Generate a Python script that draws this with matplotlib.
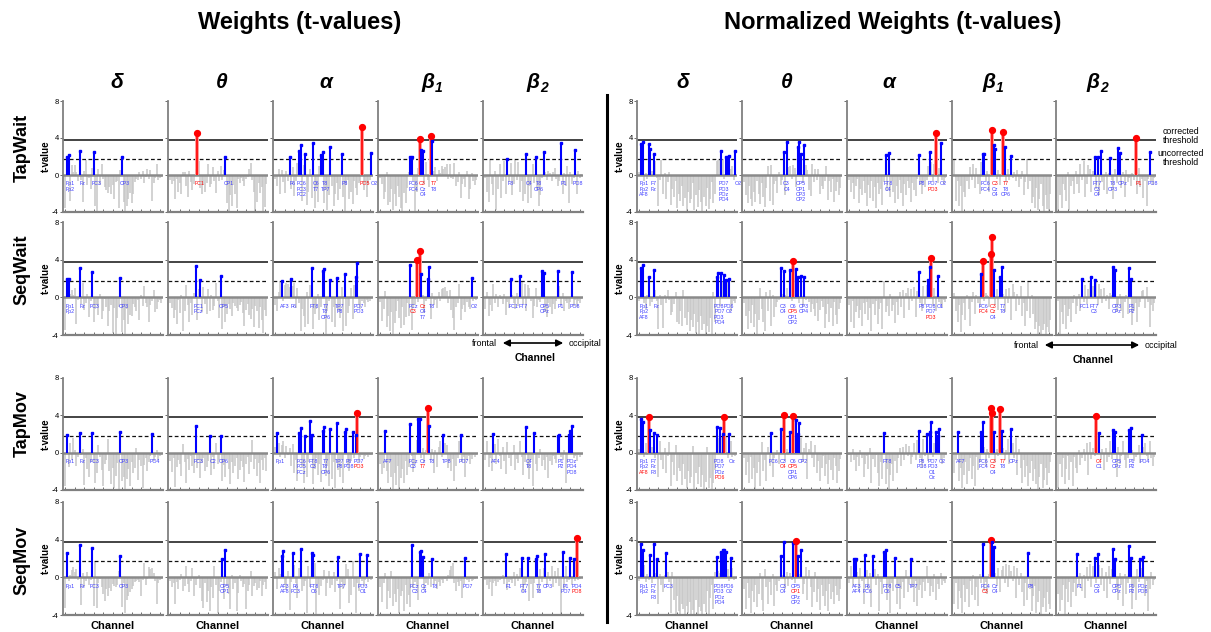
import numpy as np
import matplotlib.pyplot as plt
from matplotlib.lines import Line2D
from matplotlib.patches import FancyArrowPatch

plt.rcParams['font.family'] = ['Liberation Sans', 'DejaVu Sans']

W, H = 1211, 632
N_CH = 62
T_CORR = 3.8
T_UNCORR = 1.75

conditions = ['TapWait', 'SeqWait', 'TapMov', 'SeqMov']
band_names = ['δ', 'θ', 'α', 'β', 'β']
band_subs = ['', '', '', '1', '2']

# ---- gray (non-significant) t-values, one list per band: delta, theta, alpha, beta1, beta2 ----
w_tapwait = [
    [-3.6, 0, 0, -2.8, 1.1, 0.3, 1.1, 0.3, -0.6, 0, -0.5, -2.9, 0.4, 1.6, -1.1, -0.3, -1.5, 0.8, 0, -3.4,
     -4.0, 0.6, -1.1, 1.2, -0.4, -1.3, -1.6, -1.9, -1.3, -2.0, -1.1, -2.6, -0.8, -0.6, -3.6, 0.5, 0, -2.9, -4.0, -3.3,
     -2.6, -1.9, -3.0, -2.0, -0.8, -0.4, -0.5, 0.3, -0.4, 0.4, -0.9, -0.2, 0.7, -0.4, 0.5, -2.8, -0.9, -0.3, 1.2, -0.5,
     -0.3, -0.2],
    [-0.5, -1.0, -0.6, -2.6, -0.4, -1.8, -0.9, -2.0, 0.3, 0.3, -1.2, -2.4, 0.4, -0.8, -1.6, -1.0, 0.7, 0, 1.5, -1.4,
     -2.0, -1.1, -1.8, -0.9, 1.2, -1.3, -1.0, 0.9, -0.6, -1.9, 0.4, -0.7, 1.0, -0.5, 0.5, 0, -3.0, -4.0, -2.2, -3.4,
     -1.1, -2.0, -3.6, -0.4, -0.9, -0.3, -0.6, -1.2, -0.4, -0.2, 0.6, 1.3, -0.5, -1.8, -3.9, -2.9, -0.9, -1.9, -1.3, -4.0,
     -3.5, -1.0],
    [-0.4, -1.2, 0.6, -2.1, 0.5, -0.8, -1.9, 0.4, -0.6, 0, -1.5, 0.9, -2.3, -0.7, 1.3, 0, 0, -2.8, 1.1, 0,
     -3.2, -1.8, 0.7, -2.5, 0, -3.6, -1.4, -2.9, 1.0, 0, 0, -3.0, -1.6, -3.8, -2.2, 0, -1.2, -3.4, -2.0, -0.9,
     -2.7, -1.5, 0, -2.4, -3.9, -1.1, -0.5, -2.6, -1.8, -3.1, -0.7, -1.4, -2.2, -0.9, -0.6, 0, -1.6, -0.8, -2.4, -1.0,
     -0.5, 0],
    [-0.3, -1.0, -2.6, -1.8, 0.3, -3.2, -2.9, -1.5, -3.8, -2.1, -3.3, -1.2, -2.4, -3.6, -4.0, -1.9, -3.0, -1.4, 0.3, 0,
     0, -0.6, -3.9, -1.8, 0.8, 0, 0, 0, -1.0, 1.4, -0.5, -1.3, 0, 0, 0.4, 0.9, -0.7, 0.5, 0.2, 1.0,
     0.6, 0.9, 1.2, -0.4, 1.2, -0.3, -0.4, 1.3, -1.2, -0.8, 0.3, -2.5, -1.0, -0.4, -1.3, 0.4, -2.6, -1.5, 0.2, -0.6,
     -1.1, -0.5],
    [-0.3, -1.8, -2.9, 1.6, -1.0, -2.2, 0.4, -3.8, -1.5, 1.2, -2.5, -0.6, 1.5, -2.0, 0, -0.8, 1.3, -2.2, -1.0, 1.6,
     -0.5, 1.4, -1.8, -0.7, -2.8, -2.1, 0, -3.0, -1.2, -2.5, 1.2, -0.9, 0, -1.6, -3.4, -2.2, -0.3, 0, 0.3, -0.5,
     0.4, 0.2, -0.6, 0.3, 0.8, -0.4, -1.2, -0.6, 0, -2.0, 0.2, -1.2, 1.0, -3.0, 0.3, -1.0, -0.3, 0, -2.0, 0.4,
     -0.3, 0.1],
]
w_seqwait = [
    [-3.5, 0, 0, 0.4, 0.8, 0.3, 1.0, -2.8, -0.3, 0, -0.7, 1.5, -1.3, -0.6, 0.4, -2.1, -0.4, 0, -2.6, -1.2,
     -0.8, -1.9, 0.4, -2.3, -1.4, -0.2, -1.0, -3.0, -1.5, -0.8, -3.8, -1.1, -3.9, -2.2, -1.0, 0, -3.7, -2.4, -4.0, -1.2,
     -2.8, -1.9, -2.0, -0.7, -1.0, -1.4, -0.3, -2.4, 0.3, -0.9, 1.2, -0.6, -1.0, -2.6, -0.8, -0.4, 0.8, -1.6, -1.2, -0.5,
     -0.3, -0.6],
    [-0.6, -1.1, -2.2, -1.3, -2.8, -0.3, -1.7, 0.2, -3.6, -1.4, 1.3, -0.8, -2.6, -0.6, -1.9, 0.5, 0, -2.4, 0.9, 0,
     -1.6, 1.1, -0.7, -1.8, 0.9, -1.5, 0.3, -1.3, -0.9, 1.5, -0.4, -2.2, 0, -3.4, -1.0, -2.6, -1.8, -0.7, -1.2, -2.0,
     -0.6, -0.9, -1.1, -1.4, -0.8, -0.5, -1.7, -3.0, -1.3, -0.7, -1.9, -2.3, -1.2, -3.1, -0.9, -1.5, -3.3, -1.0, -2.4, -3.8,
     -1.3, -2.0],
    [-0.8, -1.5, 0.6, 1.6, 0, -0.4, 1.3, 1.5, 1.4, 1.1, 0, 1.2, 1.5, -1.1, 1.0, -0.6, -3.6, -1.2, -2.0, -3.2,
     0.6, -2.8, 1.3, 0, -3.4, -1.8, -1.2, 0.4, -2.4, -1.0, 0, 0, -3.9, -1.5, -0.4, 0, -2.6, -1.0, -3.2, 0,
     -1.4, -2.2, 1.1, -3.6, 0, -3.0, -1.7, -0.9, 1.0, -2.3, 1.3, 0, 0, -0.8, -1.2, -0.4, -0.6, -1.0, -0.3, -0.5,
     -0.4, -0.2],
    [-0.5, -2.5, -1.2, 0.7, -3.2, -2.0, -3.6, -1.6, -3.9, -2.7, -1.4, -0.4, -2.2, -3.3, -1.0, -2.9, -2.1, -0.6, -2.0, 0,
     -3.5, -1.1, -0.8, 0, -0.5, 0, 0, 0.3, -1.7, -0.4, 0, 0, -2.3, 0.5, -0.8, -0.3, -1.1, 0.6, -0.4, 0.9,
     1.0, 1.1, 0.7, -0.6, 0.8, -1.3, -2.2, -3.5, -1.0, -0.6, 1.4, -2.4, -1.2, -0.8, -1.6, -0.5, -1.0, -1.2, 0, -0.4,
     -0.2, -0.3],
    [-1.2, 0.6, -2.0, -0.8, -1.5, 1.4, -0.6, 0.4, -1.0, 0.3, -0.2, -0.7, 0.4, -1.9, -0.5, -1.1, 0, 0.3, -0.6, -1.2,
     0.5, -0.9, 0, 1.6, -0.7, 1.4, -1.4, 1.3, 1.0, -0.4, -2.2, -0.9, 1.0, -1.0, -0.3, -0.5, 0, 0, -1.6, -2.1,
     -0.6, -1.0, -1.8, -0.7, -1.2, -0.4, 0, 1.2, -0.8, 0.5, -1.5, -0.4, -0.6, -1.2, -0.5, 0, -0.9, -0.3, -1.0, -0.4,
     -0.6, -0.2],
]
w_tapmov = [
    [-3.6, 0, -1.5, 1.0, -0.8, 1.6, 0.3, -1.4, -0.5, 0, -0.3, 0.4, -3.5, -0.6, -1.8, -2.6, -1.0, 0, -1.1, -3.2,
     -2.2, 0.8, -0.5, -1.9, -3.6, -1.2, -0.8, 1.5, -2.0, -3.4, -1.6, -3.8, -2.5, -1.1, -4.0, 0, -3.0, -2.6, -4.0, -2.8,
     -1.7, -3.6, -1.0, -2.2, -1.6, 0.5, -2.9, -0.8, -1.4, -3.8, -1.3, -0.6, -2.0, -1.0, -0.4, 0, -0.9, -0.5, 0.3, -0.8,
     -0.4, -0.3],
    [-0.9, -2.1, -0.6, -3.7, -1.5, -0.8, -1.2, -2.5, 0.9, -1.0, -3.3, -0.7, -1.9, -0.4, -1.4, -2.2, 0, -1.6, -0.8, -2.7,
     -1.1, -0.6, -2.0, -1.5, -0.9, 0, -2.4, -0.5, -1.7, 1.0, -1.2, -0.8, 0, -3.0, -1.3, -2.6, -0.7, -1.8, -3.4, -1.0,
     -2.2, -1.4, -0.6, -2.8, -1.9, -0.9, -1.5, -3.1, -1.2, -0.5, -2.3, -1.0, 1.4, -1.8, -0.7, -2.5, -1.1, -3.2, -0.8, -1.9,
     -0.6, -2.0],
    [0.6, 0, 1.0, -0.5, 0.8, 1.3, -0.6, 0.7, -0.3, 0.5, -1.4, 0.9, -2.2, -0.8, -3.0, 0, 0, -1.5, -3.3, 0,
     -2.6, -1.0, 0, 0, -3.4, -1.8, -0.6, -2.4, -1.2, -3.1, 0, 0, -2.5, -1.4, -3.6, 0, -2.8, -1.0, -3.8, 0,
     -1.9, -2.6, -0.7, -3.2, 0, 0, -1.3, -2.0, -0.9, 0, -0.6, 0, 0, -1.0, -0.5, -0.3, -0.7, -0.4, -0.2, -0.5,
     -0.3, -0.2],
    [-1.2, -2.3, -1.6, 0, -2.0, -3.2, -1.0, -2.6, -3.9, -2.2, -3.5, -1.4, -4.0, -2.7, -1.8, -3.3, -0.9, -2.4, -1.5, 0,
     -0.4, -2.1, -1.2, 1.4, 0, 0, -0.6, 0.5, -1.0, 0.3, 0, 0, -0.8, 0.4, -2.2, 0.3, -1.5, 0.6, 1.2, -0.5,
     0, 1.0, 0.8, -1.6, -0.9, -2.0, -0.7, -3.0, -1.4, -0.6, 1.3, 0, -1.0, -0.5, -2.6, -0.8, -0.4, -1.2, -0.7, -0.3,
     -0.5, -0.2],
    [-0.8, 1.2, -1.5, -0.6, -2.0, 0, 0.9, -1.2, 1.5, -0.4, -1.7, 0.6, -0.9, -2.3, 1.1, -0.6, -1.4, -0.3, 0.8, -1.9,
     -0.7, -1.1, 1.3, -0.5, -2.4, -1.0, 0, -1.6, -2.8, -0.8, -3.6, 0, -1.2, -2.0, -0.6, 0.4, -1.4, -0.8, -1.9, -0.5,
     -2.7, -0.9, -1.3, -0.4, -0.7, -1.1, 0, 0, -0.5, -0.8, 0.3, -3.2, -1.0, 0, 0, 0, -0.6, -0.4, -0.9, -0.3,
     -0.5, -0.2],
]
w_seqmov = [
    [-3.3, 0, -0.4, 0.3, 0.8, 1.1, 0.6, 0.9, -0.3, 0, -2.9, 0.5, -1.0, -0.4, 0.6, -0.8, -0.3, 0, -3.0, 1.7,
     -3.3, -0.6, -0.2, -1.0, -1.8, -2.5, -1.2, -2.0, -1.1, -1.5, -0.7, -0.9, -1.0, -0.8, 0.7, 0, -3.2, -0.6, -3.8, -2.4,
     -2.0, -1.6, -1.2, -0.9, -0.5, -0.4, -0.3, -0.5, -2.0, -0.3, 1.5, -0.8, -0.2, 1.1, 0.9, 1.0, 0.5, -0.4, -2.8, -0.6,
     -0.3, -0.2],
    [-0.4, -1.0, -0.6, -2.8, -0.5, -1.2, -0.3, 0.4, -1.5, -0.9, 1.2, -0.7, -1.6, -0.4, 1.0, -2.0, -0.8, -0.2, 0.3, -1.1,
     -2.5, -3.3, -0.6, -2.6, -1.4, -3.6, -1.0, -2.2, 1.2, -0.8, -3.8, -1.5, -0.5, 0, -2.3, 0, -0.9, -1.8, -3.4, 0.3,
     -1.2, -0.6, -3.6, -1.7, 0.2, -0.4, -1.0, -0.7, -3.4, -1.5, -0.8, 0.7, -2.0, -0.9, -0.6, -1.3, -1.1, -0.4, -2.0, -0.8,
     -0.5, -1.2],
    [0.6, -1.2, 1.0, 0.4, 0, 0, -0.8, -1.3, 0.7, -3.5, -0.5, 0, 1.3, -0.6, -2.2, 1.0, 0, -1.5, -0.9, -0.4,
     -3.8, 1.2, -1.0, 0, 0, 1.5, -4.0, -0.7, -1.9, -0.9, -0.3, 0.8, -2.0, -0.6, 0.7, -1.1, -0.8, 0.6, -1.6, -0.4,
     0, -3.4, -0.5, -1.2, -0.8, 1.4, 0.9, -2.7, -1.9, 1.7, -1.0, -3.8, -0.6, -1.5, 0, -0.4, -0.9, -0.3, 0, -0.5,
     -0.2, -0.3],
    [-1.0, -2.6, -0.6, 0.5, -3.4, -1.5, -2.2, 0.7, -3.0, -1.8, -2.6, -1.2, -3.8, -2.0, -1.4, -3.6, -0.8, -2.8, -1.9, -3.2,
     0, -1.1, -0.5, -0.9, -2.4, 0, 0, 0, -1.3, -0.6, -0.8, 0.5, -1.0, 0, -0.7, -0.4, -1.2, -0.5, -0.9, -0.3,
     -0.6, -0.2, -0.4, 0.3, 0.8, 1.2, 1.5, -0.6, -1.4, -0.5, -0.9, -0.4, -2.2, -0.7, 0, -0.3, -0.5, -0.2, -0.4, -0.3,
     -0.2, -0.1],
    [-0.3, -0.8, -1.2, -0.5, -2.0, -0.6, -0.4, -0.9, -0.5, -0.3, -0.2, 0.3, -0.7, 0, -1.3, -0.5, -0.3, -0.6, 0.6, -0.9,
     0.4, -0.4, 1.0, 0, -1.6, -0.8, -0.5, 0, -2.5, -0.7, -2.2, -0.6, 0, 0, -1.7, 0.9, -0.5, 1.0, 0, -0.8,
     0.6, -0.4, 1.2, -1.0, 0.7, -0.6, 1.0, -0.9, -4.0, 0, -1.2, 1.2, -0.5, -0.3, 0, -0.8, 0, -0.4, 0, -0.3,
     -0.2, -0.1],
]

nw_tapwait = [
    [0.3, 0, 0, -0.6, 0.2, -0.4, 0, 0, 0.4, 0, 1.5, -0.3, -3.3, -0.5, 1.6, -2.0, 0.2, -2.6, -0.8, 0.3,
     -3.2, -1.5, -2.4, -0.6, -3.6, -2.0, -2.8, -1.2, -3.4, -2.5, -4.0, -1.8, -3.0, -2.6, -0.9, -3.8, -2.2, -3.5, -1.6, -2.9,
     -4.0, -2.4, -3.3, -1.4, -3.7, -2.6, -0.8, -3.0, -2.0, 1.5, 1.6, 1.7, 0, 1.7, -0.4, 0, 0, 0, 0.6, 1.0,
     -0.5, 0],
    [-0.8, -2.2, -3.0, -1.2, -2.6, -3.4, -1.8, -2.9, -0.6, -2.0, -3.1, -0.9, -2.4, -3.5, -1.4, 1.0, -2.8, 1.1, -3.2, -1.0,
     -0.6, -1.9, 0.3, -1.1, -0.5, 0, -2.2, 0, 0.9, 1.0, -0.4, 1.1, 0.8, -1.3, 0, 0, 0, -0.9, 0, 1.1,
     0.5, -1.6, -2.3, 1.2, -0.8, 0.6, -0.5, 0.7, -2.0, -1.2, -1.5, -0.7, 1.0, -2.7, -0.6, -1.8, -0.4, -2.9, -1.7, -0.8,
     -2.2, -1.4],
    [-0.5, -1.8, -0.9, -2.6, -1.2, -0.4, -3.0, -1.5, -2.2, -0.7, -1.9, -3.4, -1.1, -2.5, -0.6, -2.8, -1.3, -3.6, -0.9, -2.1,
     -1.5, -3.2, -0.8, 0, -1.7, 0, -2.4, -0.6, -1.8, -3.0, -1.2, -2.6, -0.5, -1.9, -3.3, -1.0, -2.2, -0.7, -1.4, -2.9,
     -0.9, -1.6, -2.3, -0.4, 0, -1.1, -2.0, -0.8, -1.3, -0.5, 1.0, 0, 1.4, -0.6, 1.2, 0, -0.9, 0.8, 0, -0.5,
     -1.0, -0.3],
    [1.6, -2.8, -0.6, -3.4, -1.2, -3.9, -1.8, -2.4, -0.7, -1.5, 0.9, -0.5, 1.2, -1.4, 0.8, -1.0, -2.0, 1.4, 0, 0,
     -0.6, 0.4, -1.8, 1.5, 0, 0, 0, -0.4, 0.5, -1.1, 0.3, 0, 0, -0.8, 0.6, -0.5, 0, -0.3, 0.3, -0.6,
     0.5, -1.3, -0.4, 0.4, -2.2, -0.8, 1.7, -1.5, -0.6, -3.0, -2.4, -3.6, -1.4, -3.8, -2.6, -1.0, -3.4, -4.0, -2.2, -3.7,
     -3.9, -2.0],
    [-3.9, -2.2, -3.6, -1.0, -1.6, -2.8, 0.3, -3.8, -1.2, -0.6, -2.0, 0.4, -1.0, -1.9, 1.2, -0.5, 1.5, -2.4, -1.0, 1.1,
     0.7, -1.8, 0.4, 0, -1.5, 0, -2.2, 0, -0.8, -1.6, 0.3, -2.1, 0.2, 0, -0.5, -2.6, 0.6, -0.9, 0, 0,
     -1.4, 0.3, -2.4, 0.5, -0.8, -0.3, -1.2, 0.2, -0.5, 0, -2.0, 0.8, -1.3, -0.4, -2.5, -0.7, -3.3, -0.4, 0, -0.6,
     -1.1, -0.3],
]
nw_seqwait = [
    [-0.4, 0, 0, -0.6, -1.2, 0.3, 0, -0.9, -0.5, 0, 0.8, -0.4, -3.4, 0.2, -0.8, -3.3, 0.3, -0.6, 0.8, -0.3,
     -1.9, -1.6, -0.7, 0.6, -2.6, -2.8, -1.4, -3.0, 0.8, -2.2, -2.9, -1.6, -3.6, -2.4, -3.2, -1.8, -3.8, -2.6, -3.9, -2.0,
     -3.5, -2.8, -4.0, -3.0, -3.7, -2.2, -3.9, 0.6, -2.6, 0, 0, -0.9, 0, 1.7, 0, 0, 1.6, 0, -1.5, -0.8,
     -0.4, -0.6],
    [-0.6, -2.0, -3.4, -1.4, -2.7, -0.8, -3.2, -1.8, -3.9, -2.4, 1.0, -1.2, -2.6, -3.6, 0.6, -1.5, 0.8, -3.0, 0.3, -2.1,
     -1.0, -0.5, -0.3, 0, 0.4, 0, 0.3, 1.0, -0.2, 0, -0.4, 0, 0.3, 0, 0, -0.6, 0, -0.9, 0, -0.3,
     -0.2, -0.5, -1.6, -0.7, -1.2, -2.0, -0.6, -2.5, -1.3, -0.4, -1.0, -3.3, -1.8, -0.7, -2.6, -1.1, -3.0, -0.5, -1.9, -2.8,
     -1.2, -0.6],
    [-0.8, -2.6, -0.4, -3.3, -1.6, -0.9, -2.2, -1.3, -3.0, -0.6, -1.8, -0.5, -2.4, -1.1, -3.6, -0.7, -1.9, -0.4, -2.8, -1.2,
     -0.6, -3.4, 1.7, -1.6, -0.9, -2.0, 0.4, -1.4, -0.8, -2.7, -0.5, -1.9, 0.6, -1.0, 0.8, -2.2, 0.5, 1.0, -1.3, 0.9,
     -0.4, 1.1, -2.1, 0.7, 0, -0.6, -1.5, 1.2, -0.8, 1.3, 0, 0, 0, -0.9, 1.0, -1.4, 0, -0.5, -0.7, -1.0,
     -0.3, -0.5],
    [0.5, -1.4, -2.6, -0.8, -3.7, -1.9, -0.6, -2.4, 0.3, -1.2, -3.0, -0.5, 0.6, -1.8, 0.3, -0.6, -1.0, 0, 0, -0.4,
     0.5, 0.3, -1.0, 0, 0, 0, -0.8, 0.9, -1.3, 0, 0, 0.4, -1.6, 0.9, -0.6, 1.0, -2.4, 1.4, 0.6, -1.5,
     0.4, -0.8, 1.2, -2.0, -0.6, -3.0, -1.4, 1.7, -2.2, 0.3, -1.8, -3.4, -2.6, -3.9, -3.0, -4.0, -3.5, -2.8, -4.0, -3.2,
     -3.7, -2.4],
    [-0.4, -3.9, -1.6, -2.8, -0.8, -3.4, -2.0, -1.2, -2.6, -0.6, 0.2, -1.8, -0.9, 0.4, -1.4, 0, -0.5, 1.3, -0.7, 0.9,
     1.5, 0, 1.2, 0, 1.6, -0.8, 1.4, 0.9, -0.6, 1.0, -0.4, 0.3, -1.2, 0.5, 0.3, 0, 0, -1.6, -0.8, 0.4,
     -1.4, -2.2, -0.5, 0.3, -1.8, 0, 0, -2.9, -1.4, -0.6, -2.6, -1.0, -0.5, 0.7, 0.8, -1.1, 1.1, -0.5, -3.2, -0.8,
     -1.4, -0.6],
]
nw_tapmov = [
    [0.4, 0, 0, -0.5, 1.0, -0.3, 0, 0, 0.6, 0, -0.6, 0, -2.6, 1.2, -0.8, -1.8, 0.5, -2.2, -0.4, 1.1,
     -3.6, -1.0, -2.4, 0.8, -3.0, -1.6, -2.0, -3.5, -1.2, -2.8, -3.8, -2.0, -3.2, -2.6, 0.7, -3.9, -2.2, -3.4, -1.5, -3.7,
     -2.4, -4.0, -3.1, 0.6, -3.8, -2.7, -4.0, -3.3, -1.9, 0, 1.6, 0, 1.7, 0, 0, 1.7, -0.6, 0, 1.2, -0.5,
     -0.3, -0.4],
    [-0.6, -2.4, -1.0, -3.3, -0.5, -2.8, -1.6, -3.9, -2.2, -1.0, -3.6, 1.1, -2.0, -0.8, -3.0, 0.6, -1.4, 0, -2.6, -0.6,
     -0.3, 0.3, -1.2, 0, 0.5, 0, -0.9, 0.4, -0.3, 0, 0.6, 0, 0.3, 0, 0, 0, 1.6, -1.0, 0.5, 1.0,
     -2.8, 0.4, 1.2, -0.6, -1.5, 0.8, -2.2, -0.9, -3.0, -1.6, -0.4, -2.5, -1.2, -3.4, -0.8, -1.9, -2.9, -0.6, -1.4, -3.2,
     -2.0, -0.7],
    [-0.3, -1.0, 0.4, -0.8, -2.0, -0.5, -1.4, 0.3, -0.6, -2.6, -1.2, -0.4, -1.8, 0.5, -3.2, -0.7, -1.5, -0.3, -2.2, -3.6,
     -1.0, -2.8, 0, -3.4, -1.8, -3.9, -2.4, -1.2, -3.0, -0.9, -2.2, -0.6, 0.5, -1.4, 0.6, -0.8, 0.9, -0.4, 0.7, -1.2,
     -0.5, 1.0, -0.8, 1.4, 0, -0.6, -1.6, 1.5, -0.4, 0, -0.9, 0, 0, -0.5, 1.0, 0, 0, 0, -0.7, -1.2,
     -0.6, -0.3],
    [-2.2, -0.8, 0, -3.0, -1.6, -3.8, -2.4, -1.0, -3.4, -2.0, -0.6, -2.8, -1.4, -3.6, -0.5, -1.9, -1.0, 0, 0, 0.6,
     -1.4, 0.4, -0.6, 0, 0, 0, -1.0, 0.4, -0.4, 0, 0, 0.5, -0.8, 0.3, 1.5, -1.2, 0, 1.0, -0.6, 1.6,
     -2.4, 0.4, -1.6, -3.2, -0.8, -2.6, -1.4, -3.6, -2.2, -0.9, -3.0, -1.8, -3.4, -4.0, -2.6, -1.2, -3.8, -2.9, -1.6, -3.5,
     -2.2, -1.0],
    [-3.8, -1.2, -2.6, -0.6, -3.4, -1.8, -0.4, -2.9, -1.0, -3.6, -0.5, -1.6, -2.2, 0.3, -1.3, -0.6, 0.4, -0.9, 1.0, -2.4,
     1.1, -0.7, 0.5, -0.4, 0, 0.6, 0, -0.8, 0.4, -1.9, 0.5, -1.0, -0.5, 1.2, -0.7, 0, 0, -2.6, 0.6, -1.2,
     -0.4, 1.3, -0.8, -1.6, -0.6, 0, 0, 0.3, -0.9, -0.5, -0.3, 0.8, -1.1, 0, 0.6, 1.0, -0.4, -0.8, 1.2, -0.6,
     -1.4, -0.5],
]
nw_seqmov = [
    [-0.4, 0, 0, 1.3, -0.5, 0.4, -0.3, 0, -0.6, 0, 0.5, 0, -2.8, 0.4, -0.8, -1.6, 0.3, 0, 0.6, -0.5,
     -3.8, 0.6, -2.4, -3.9, -2.0, -3.6, -4.0, -2.8, -3.4, -4.0, -3.0, -3.8, -2.6, -4.0, -3.5, -3.9, -2.4, -4.0, -3.2, -3.6,
     -4.0, -2.8, -3.7, -1.5, -3.9, -2.2, -0.8, -3.4, 0.6, 0, 0.7, 0.5, 0, 0, 0, 0, 0.9, -0.4, 0, 1.0,
     -0.3, -0.2],
    [-1.2, -3.4, -0.6, -2.2, -3.8, -1.4, -2.6, -0.8, -3.2, -1.8, 0.5, -2.4, -3.6, 0.9, -1.0, -2.8, -0.5, -1.9, 0.4, -3.0,
     -0.8, -1.5, -0.4, 0, 0.3, 0, -1.2, 0.6, -0.9, 0.5, -0.3, 0, -0.6, 0, 0, 0.4, 0, -1.8, -0.7, 1.1,
     -2.4, 0.8, -1.0, -3.2, -1.6, 0.6, -2.6, -1.2, -3.5, -0.8, -2.0, -3.0, -1.4, -3.6, -0.7, -2.3, -1.6, -2.8, -0.9, -1.9,
     -2.5, -1.2],
    [-0.6, 1.2, -0.9, 0, 0, 0.6, -1.5, 1.0, -0.4, -2.8, 0, 0.8, -1.2, 0.5, -3.2, 0, 0.9, -0.8, 0.4, -3.6,
     -0.5, -1.8, 0, 0, -2.4, -1.0, -3.8, -0.6, -1.5, 0, -2.8, -0.9, -3.4, -1.2, -0.5, -2.2, 0.8, -1.6, -0.7, 0,
     -1.0, -2.6, -0.4, -3.0, -1.3, -0.8, -2.2, -0.5, -1.4, 1.2, -0.6, -2.0, -0.9, -1.6, 0.4, -2.4, -0.7, -1.2, 0.5, -0.8,
     -0.4, -0.6],
    [-2.8, -0.6, -3.4, -1.5, -2.2, -3.8, -0.8, -2.6, -1.2, -3.2, -0.4, -1.9, 0.3, -2.4, -1.0, -3.0, 0.4, -0.6, 0, -1.4,
     -0.5, -1.8, 0.4, 0, 0, 0, 0.5, -0.9, 1.0, -1.6, 0.8, 1.2, -0.6, 1.4, -1.0, 1.3, 0.7, -0.4, 1.2, -2.2,
     1.0, -0.8, 0.5, -1.6, -3.0, -0.6, -2.4, 0, -1.2, -3.6, -2.0, -0.9, -3.8, -2.6, -1.4, -4.0, -3.2, -2.2, -3.7, -1.6,
     -2.8, -3.4],
    [-1.8, -3.6, -2.4, -0.8, -3.9, -1.2, -2.6, -0.5, -3.2, -1.6, -0.6, -2.0, 0, -0.9, 0.5, -1.4, 0.3, -2.2, 1.1, -0.4,
     1.4, -1.0, 1.2, 0, -0.6, 0, 1.3, -0.8, 1.0, -1.5, 0.6, -2.2, 1.2, -0.7, 0.9, 0, 0, -1.2, -2.4, 0.5,
     -0.8, -3.0, 0.4, -1.8, -0.6, 0, 0, -3.4, -1.0, -2.4, 0.9, -0.5, 0, 1.0, 0, -2.0, -0.4, -3.6, -1.2, 0.6,
     -0.8, -0.3],
]

# ---- significant channels: (channel index, t-value, label, 'b' uncorrected / 'r' corrected) ----
hl_w_tapwait = [
    [(1, 1.95, 'Fp1', 'b'), (2, 2.2, 'Fp2', 'b'), (9, 2.6, 'Fz', 'b'), (18, 2.5, 'FC3', 'b'), (36, 1.9, 'CP3', 'b')],
    [(17, 4.5, 'FC1', 'r'), (35, 2.0, 'CP1', 'b')],
    [(9, 1.9, 'F6', 'b'), (15, 2.6, 'FC6', 'b'), (16, 3.2, 'FC3', 'b'), (19, 2.3, 'FC2', 'b'), (24, 3.5, 'C6', 'b'),
     (29, 2.2, 'T7', 'b'), (30, 2.5, 'T8', 'b'), (35, 3.0, 'TP7', 'b'), (42, 2.3, 'P8', 'b'), (55, 5.2, 'PO5', 'r'),
     (61, 2.4, 'O2', 'b')],
    [(19, 1.9, 'FC6', 'b'), (20, 2.0, 'FC4', 'b'), (25, 3.9, 'C3', 'r'), (26, 2.7, 'Cz', 'b'), (27, 2.6, 'C4', 'b'),
     (32, 4.2, 'T7', 'r'), (33, 3.65, 'T8', 'b')],
    [(14, 1.77, 'F8', 'b'), (26, 2.3, 'C4', 'b'), (32, 1.95, 'T8', 'b'), (37, 2.45, 'CP6', 'b'), (48, 3.45, 'P1', 'b'),
     (57, 2.7, 'PO8', 'b')],
]
hl_w_seqwait = [
    [(1, 1.95, 'Fp1', 'b'), (2, 1.9, 'Fp2', 'b'), (9, 3.1, 'Fz', 'b'), (17, 2.7, 'FC3', 'b'), (35, 2.05, 'CP3', 'b')],
    [(16, 3.35, 'FC1', 'b'), (19, 1.87, 'FCz', 'b'), (32, 2.3, 'CP5', 'b')],
    [(4, 1.76, 'AF3', 'b'), (10, 1.9, 'F6', 'b'), (23, 3.13, 'FT8', 'b'), (30, 2.82, 'T7', 'b'), (31, 2.96, 'T8', 'b'),
     (35, 1.8, 'CP6', 'b'), (39, 2.08, 'TP7', 'b'), (44, 2.46, 'P8', 'b'), (51, 2.15, 'PO7', 'b'), (52, 3.6, 'PO3', 'b')],
    [(19, 3.45, 'FCz', 'b'), (23, 4.0, 'C3', 'r'), (25, 4.96, 'Cz', 'r'), (26, 2.5, 'C4', 'b'), (30, 1.94, 'T7', 'b'),
     (31, 3.17, 'T8', 'b'), (58, 2.1, 'O2', 'b')],
    [(16, 1.9, 'FC1', 'b'), (22, 2.3, 'FT7', 'b'), (36, 2.8, 'CP5', 'b'), (37, 2.6, 'CPz', 'b'), (46, 2.8, 'P1', 'b'),
     (55, 2.7, 'PO8', 'b')],
]
hl_w_tapmov = [
    [(1, 1.9, 'Fp1', 'b'), (9, 2.15, 'Fz', 'b'), (17, 2.15, 'FC3', 'b'), (35, 2.2, 'CP3', 'b'), (55, 2.0, 'PO4', 'b')],
    [(16, 2.9, 'FC3', 'b'), (25, 1.8, 'C2', 'b'), (32, 1.8, 'CP6', 'b')],
    [(1, 2.1, 'Fp1', 'b'), (15, 2.15, 'FC6', 'b'), (16, 2.6, 'FC5', 'b'), (19, 1.8, 'FCz', 'b'), (22, 3.35, 'FT8', 'b'),
     (23, 1.9, 'C3', 'b'), (30, 2.3, 'T7', 'b'), (31, 2.75, 'T8', 'b'), (35, 2.5, 'CP6', 'b'), (39, 3.2, 'TP7', 'b'),
     (44, 2.25, 'P8', 'b'), (45, 2.5, 'P6', 'b'), (49, 2.25, 'PO8', 'b'), (51, 1.85, 'PO7', 'b'), (52, 4.2, 'PO3', 'r')],
    [(3, 2.3, 'AF7', 'b'), (19, 3.1, 'FCz', 'b'), (24, 3.66, 'C3', 'b'), (25, 3.66, 'Cz', 'b'), (30, 4.8, 'T7', 'r'),
     (31, 2.85, 'T8', 'b'), (40, 1.9, 'TP8', 'b'), (51, 1.85, 'PO7', 'b')],
    [(5, 2.0, 'AF4', 'b'), (26, 2.8, 'C4', 'b'), (31, 2.15, 'T8', 'b'), (46, 1.8, 'P1', 'b'), (47, 1.85, 'P2', 'b'),
     (53, 1.9, 'POz', 'b'), (54, 2.3, 'PO4', 'b'), (55, 2.85, 'PO8', 'b')],
]
hl_w_seqmov = [
    [(1, 2.6, 'Fp1', 'b'), (9, 3.4, 'Fz', 'b'), (17, 3.1, 'FC3', 'b'), (35, 2.25, 'CP3', 'b')],
    [(33, 1.9, 'CP5', 'b'), (35, 2.95, 'CP1', 'b')],
    [(4, 2.3, 'AF3', 'b'), (5, 2.8, 'AF8', 'b'), (11, 2.6, 'F6', 'b'), (16, 3.0, 'FC3', 'b'), (23, 2.6, 'FT8', 'b'),
     (24, 2.35, 'C6', 'b'), (40, 2.15, 'TP7', 'b'), (54, 2.45, 'PO3', 'b'), (58, 2.4, 'O1', 'b')],
    [(20, 3.4, 'FCz', 'b'), (25, 2.65, 'C3', 'b'), (26, 2.8, 'Cz', 'b'), (27, 2.15, 'C4', 'b'), (33, 1.9, 'T8', 'b'),
     (54, 2.1, 'PO7', 'b')],
    [(13, 2.5, 'F1', 'b'), (23, 2.05, 'FT7', 'b'), (27, 2.05, 'C4', 'b'), (32, 1.9, 'T7', 'b'), (33, 2.3, 'T8', 'b'),
     (38, 2.5, 'CP3', 'b'), (49, 2.7, 'P1', 'b'), (54, 2.05, 'PO7', 'b'), (56, 1.9, 'PO4', 'b'), (58, 4.2, 'PO8', 'r')],
]
hl_nw_tapwait = [
    [(1, 3.3, 'Fp1', 'b'), (2, 3.6, 'Fp2', 'b'), (6, 3.4, 'AF8', 'b'), (7, 2.85, 'F7', 'b'), (9, 2.25, 'Fz', 'b'),
     (52, 2.6, 'PO7', 'b'), (55, 1.9, 'PO3', 'b'), (56, 1.95, 'POz', 'b'), (57, 2.1, 'PO4', 'b'), (61, 2.6, 'O2', 'b')],
    [(25, 2.5, 'C3', 'b'), (27, 3.6, 'C4', 'b'), (34, 3.0, 'CP5', 'b'), (35, 3.6, 'CP1', 'b'), (36, 2.3, 'CP3', 'b'),
     (38, 3.2, 'CP2', 'b')],
    [(23, 2.2, 'FT8', 'b'), (25, 2.4, 'C4', 'b'), (44, 2.2, 'P8', 'b'), (51, 2.5, 'PO7', 'b'), (55, 4.5, 'PO3', 'r'),
     (58, 3.5, 'O2', 'b')],
    [(18, 2.25, 'FC6', 'b'), (19, 2.25, 'FC4', 'b'), (24, 4.85, 'C3', 'r'), (25, 3.25, 'Cz', 'b'), (26, 2.8, 'C4', 'b'),
     (31, 4.65, 'T7', 'r'), (32, 3.05, 'T8', 'b'), (36, 2.05, 'CP6', 'b')],
    [(23, 1.95, 'FT7', 'b'), (25, 1.95, 'C3', 'b'), (27, 2.6, 'C4', 'b'), (33, 1.8, 'T8', 'b'), (38, 2.9, 'CP3', 'b'),
     (39, 2.4, 'CPz', 'b'), (49, 4.05, 'P1', 'r'), (58, 2.45, 'PO8', 'b')],
]
hl_nw_seqwait = [
    [(1, 3.1, 'Fp1', 'b'), (2, 3.45, 'Fp2', 'b'), (6, 2.2, 'AF8', 'b'), (9, 2.9, 'Fz', 'b'), (49, 2.2, 'PO8', 'b'),
     (50, 2.55, 'PO7', 'b'), (52, 2.55, 'PO3', 'b'), (54, 2.35, 'PO4', 'b'), (55, 1.8, 'PO6', 'b'), (57, 1.9, 'O2', 'b')],
    [(23, 3.15, 'C3', 'b'), (25, 2.75, 'C4', 'b'), (29, 2.9, 'C6', 'b'), (31, 3.85, 'CP5', 'r'), (33, 3.05, 'CP1', 'b'),
     (34, 2.2, 'CP2', 'b'), (36, 2.3, 'CP3', 'b'), (38, 2.2, 'CP4', 'b')],
    [(44, 2.7, 'P8', 'b'), (50, 1.8, 'PO8', 'b'), (51, 3.2, 'PO7', 'b'), (52, 4.2, 'PO3', 'r'), (56, 2.3, 'O1', 'b')],
    [(17, 2.5, 'FC6', 'b'), (18, 3.9, 'FC4', 'r'), (23, 4.6, 'C3', 'r'), (24, 6.4, 'Cz', 'r'), (25, 2.9, 'C4', 'b'),
     (29, 2.2, 'T7', 'b'), (30, 3.2, 'T8', 'b')],
    [(15, 1.95, 'FC1', 'b'), (21, 2.2, 'FT7', 'b'), (23, 1.8, 'C3', 'b'), (35, 3.2, 'CP3', 'b'), (36, 2.95, 'CPz', 'b'),
     (45, 3.15, 'P1', 'b'), (46, 2.0, 'P2', 'b')],
]
hl_nw_tapmov = [
    [(1, 3.65, 'Fp1', 'b'), (2, 3.3, 'Fp2', 'b'), (6, 3.8, 'AF8', 'r'), (7, 2.45, 'F7', 'b'), (9, 2.1, 'Fz', 'b'),
     (11, 1.9, 'F8', 'b'), (49, 2.8, 'PO8', 'b'), (51, 2.6, 'PO7', 'b'), (53, 1.95, 'POz', 'b'), (54, 3.8, 'PO6', 'r'),
     (57, 2.0, 'Oz', 'b')],
    [(17, 2.1, 'FC6', 'b'), (23, 2.55, 'C3', 'b'), (25, 4.05, 'C4', 'r'), (29, 2.2, 'C6', 'b'), (31, 3.9, 'CP5', 'r'),
     (33, 3.45, 'CP1', 'b'), (34, 1.95, 'CP6', 'b'), (35, 3.2, 'CP2', 'b')],
    [(22, 2.1, 'FT8', 'b'), (44, 2.3, 'P8', 'b'), (49, 2.0, 'PO8', 'b'), (51, 2.2, 'PO7', 'b'), (52, 3.25, 'PO3', 'b'),
     (55, 2.2, 'O1', 'b'), (56, 1.8, 'Oz', 'b'), (57, 2.5, 'O2', 'b')],
    [(2, 2.2, 'AF7', 'b'), (17, 2.2, 'FC6', 'b'), (18, 3.25, 'FC4', 'b'), (23, 4.75, 'C3', 'r'), (24, 4.3, 'Cz', 'r'),
     (25, 2.2, 'C4', 'b'), (29, 4.65, 'T7', 'r'), (30, 2.35, 'T8', 'b'), (36, 2.55, 'CPz', 'b')],
    [(24, 3.9, 'C4', 'r'), (26, 2.1, 'C1', 'b'), (35, 2.4, 'CP5', 'b'), (36, 2.2, 'CPz', 'b'), (45, 2.4, 'P1', 'b'),
     (46, 2.65, 'P2', 'b'), (53, 1.85, 'PO4', 'b')],
]
hl_nw_seqmov = [
    [(1, 3.55, 'Fp1', 'b'), (2, 2.95, 'Fp2', 'b'), (7, 2.35, 'F7', 'b'), (9, 3.55, 'Fz', 'b'), (11, 1.95, 'F8', 'b'),
     (17, 2.6, 'FC3', 'b'), (49, 2.15, 'PO8', 'b'), (52, 2.7, 'PO3', 'b'), (53, 2.85, 'POz', 'b'), (54, 2.85, 'PO4', 'b'),
     (55, 2.65, 'PO6', 'b'), (58, 2.1, 'O2', 'b')],
    [(23, 2.25, 'C3', 'b'), (25, 3.7, 'C4', 'b'), (31, 3.65, 'CP5', 'b'), (33, 3.9, 'CP1', 'r'), (34, 2.25, 'CPz', 'b'),
     (36, 2.85, 'CP2', 'b')],
    [(3, 1.9, 'AF3', 'b'), (4, 1.9, 'AF4', 'b'), (10, 2.4, 'F6', 'b'), (15, 2.25, 'FC6', 'b'), (22, 2.7, 'FT8', 'b'),
     (23, 2.9, 'C6', 'b'), (29, 2.0, 'C5', 'b'), (39, 1.9, 'TP7', 'b')],
    [(18, 3.55, 'FC4', 'b'), (23, 3.95, 'C3', 'r'), (24, 3.8, 'Cz', 'b'), (25, 3.2, 'C4', 'b'), (47, 2.6, 'P8', 'b')],
    [(12, 2.45, 'F1', 'b'), (23, 2.0, 'C3', 'b'), (25, 2.5, 'C4', 'b'), (35, 3.0, 'CP5', 'b'), (36, 1.9, 'CPz', 'b'),
     (45, 3.35, 'P1', 'b'), (46, 2.1, 'P2', 'b'), (52, 1.9, 'POz', 'b'), (54, 2.2, 'PO8', 'b')],
]

gray_sets = [[w_tapwait, w_seqwait, w_tapmov, w_seqmov],
             [nw_tapwait, nw_seqwait, nw_tapmov, nw_seqmov]]
hl_sets = [[hl_w_tapwait, hl_w_seqwait, hl_w_tapmov, hl_w_seqmov],
           [hl_nw_tapwait, hl_nw_seqwait, hl_nw_tapmov, hl_nw_seqmov]]

# ---- layout in pixels ----
COL_X = [[63, 168, 273, 378, 483], [637, 742, 847, 952, 1056]]
PANEL_W = 100
ROW_Y = [(101, 212), (222, 335), (378, 490), (502, 615)]
BLUE = '#0000ff'
RED = '#ff0000'
LBL_BLUE = '#3a3aff'

fig = plt.figure(figsize=(W / 100, H / 100), dpi=100)


def fx(px):
    return px / W


def fy(py):
    return 1 - py / H


def draw_labels(ax, hl):
    groups = []
    for idx, t, name, c in sorted(hl):
        if groups and idx - groups[-1][0][0] <= 5:
            groups[-1].append((idx, name, c))
        else:
            groups.append([(idx, name, c)])
    for g in groups:
        x0 = g[0][0] + 1.8
        for k, (idx, name, c) in enumerate(g):
            ax.text(x0, -0.95 - 0.58 * k, name, fontsize=3.8, ha='center', va='center',
                    color=RED if c == 'r' else LBL_BLUE)


for g in range(2):
    for r in range(4):
        top, bot = ROW_Y[r]
        for c in range(5):
            x0 = COL_X[g][c]
            ax = fig.add_axes([fx(x0), fy(bot), PANEL_W / W, (bot - top) / H])
            vals = np.array(gray_sets[g][r][c], dtype=float)
            hl = hl_sets[g][r][c]
            hl_idx = {h[0] for h in hl}
            xs = np.arange(len(vals))
            keep = np.array([i not in hl_idx for i in xs])
            ax.vlines(xs[keep], 0, vals[keep], color='#c6c6c6', lw=1.1, zorder=1)

            ax.axhline(0, color='#8a8a8a', lw=1.8, zorder=2)
            ax.axhline(T_CORR, color='#111111', lw=1.1, zorder=2)
            ax.axhline(T_UNCORR, color='#111111', lw=0.9, ls=(0, (3, 2)), zorder=2)

            for idx, t, name, col in hl:
                if col == 'r':
                    ax.vlines(idx, 0, t, color='#ff9a9a', lw=2.8, zorder=3)
                    ax.vlines(idx, 0, t, color=RED, lw=1.2, zorder=4)
                    ax.plot(idx, t, 'o', color=RED, ms=4.2, zorder=5)
                else:
                    ax.vlines(idx, 0, t, color=BLUE, lw=1.5, zorder=4)
                    ax.plot(idx, t, 's', color=BLUE, ms=2.0, zorder=5)
            draw_labels(ax, hl)

            ax.set_xlim(-1.5, N_CH)
            ax.set_ylim(-4, 8)
            for s in ['top', 'right']:
                ax.spines[s].set_visible(False)
            ax.spines['left'].set_color('#808080')
            ax.spines['left'].set_linewidth(1.3)
            ax.spines['bottom'].set_color('#808080')
            ax.spines['bottom'].set_linewidth(1.6)
            ax.set_xticks(np.arange(0, N_CH, 6))
            ax.set_xticklabels([])
            ax.tick_params(axis='x', direction='in', length=2.5, width=0.6, color='#555555')
            ax.set_yticks([-4, 0, 4, 8])
            ax.tick_params(axis='y', direction='out', length=2, width=0.6, color='#555555', pad=1)
            if c == 0:
                ax.set_yticklabels(['-4', '0', '4', '8'], fontsize=5.5)
                ax.set_ylabel('t-value', fontsize=7, fontweight='bold', labelpad=1)
            else:
                ax.set_yticklabels([])
            if r == 3:
                ax.set_xlabel('Channel', fontsize=8, fontweight='bold', labelpad=1)

# group titles
fig.text(fx(300), fy(22), 'Weights (t-values)', fontsize=17, fontweight='bold', ha='center', va='center')
fig.text(fx(893), fy(22), 'Normalized Weights (t-values)', fontsize=17, fontweight='bold', ha='center', va='center')

# band headers
HEAD_X = [[117, 222, 326, 432, 537], [683, 787, 889, 993, 1097]]
for g in range(2):
    for c in range(5):
        hx = HEAD_X[g][c]
        off = -4 if band_subs[c] else 0
        fig.text(fx(hx + off), fy(82), band_names[c], fontsize=15, fontweight='bold', fontstyle='italic',
                 ha='center', va='center')
        if band_subs[c]:
            fig.text(fx(hx + 3), fy(88), band_subs[c], fontsize=10, fontweight='bold', fontstyle='italic',
                     ha='left', va='center')

# condition labels
ROW_LABEL_Y = [148, 270, 424, 560]
for r in range(4):
    fig.text(fx(22), fy(ROW_LABEL_Y[r]), conditions[r], fontsize=13, fontweight='bold', rotation=90,
             ha='center', va='center')

# divider
fig.add_artist(Line2D([fx(607), fx(607)], [fy(95), fy(622)], color='k', lw=2.2))

# threshold legend
fig.text(fx(1181), fy(136), 'corrected\nthreshold', fontsize=6.3, ha='center', va='center', linespacing=1.1)
fig.text(fx(1181), fy(158), 'uncorrected\nthreshold', fontsize=6.3, ha='center', va='center', linespacing=1.1)

# frontal / occipital arrows
for (xf, xa0, xa1, xo, yy, xc) in [(497, 500, 566, 569, 343, 535), (1039, 1042, 1142, 1145, 345, 1093)]:
    fig.text(fx(xf), fy(yy), 'frontal', fontsize=6.5, ha='right', va='center')
    fig.text(fx(xo), fy(yy), 'occipital', fontsize=6.5, ha='left', va='center')
    fig.add_artist(FancyArrowPatch((fx(xa0), fy(yy)), (fx(xa1), fy(yy)), transform=fig.transFigure,
                                   arrowstyle='<|-|>', mutation_scale=10, lw=1.2, color='k'))
    fig.text(fx(xc), fy(yy + 15), 'Channel', fontsize=7.5, fontweight='bold', ha='center', va='center')

fig.savefig('out.png', dpi=100)
